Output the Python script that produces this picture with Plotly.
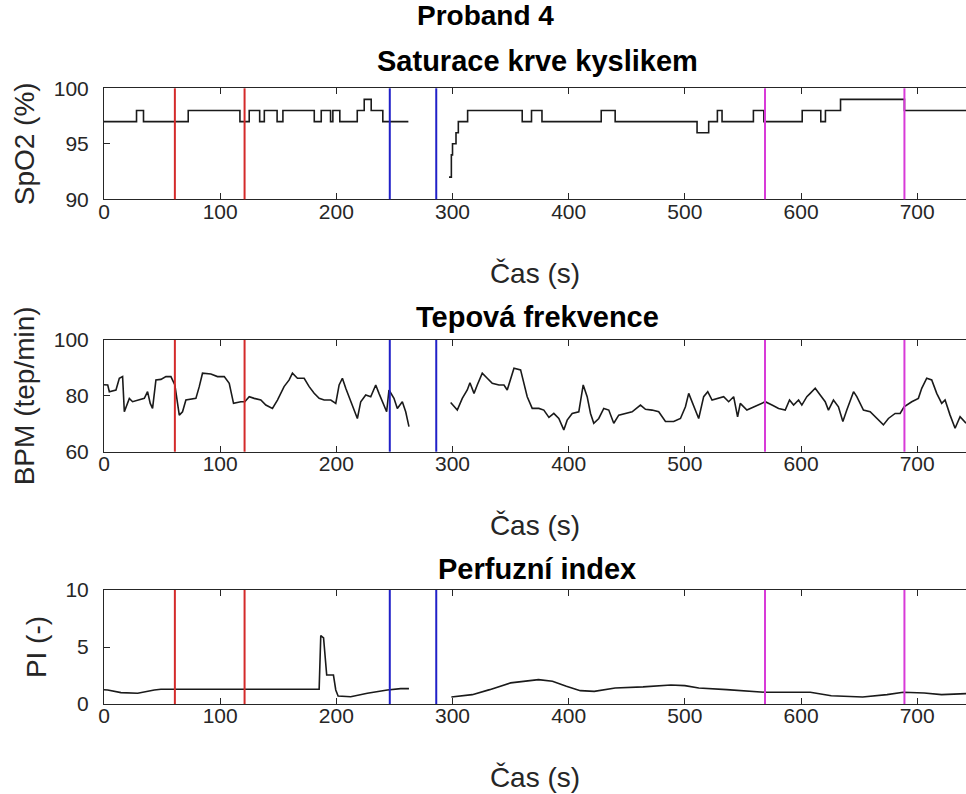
import plotly.graph_objects as go

W, H = 966, 794

# ---------------- data ----------------
event_red = [61, 121]
event_blue = [246, 286]
event_magenta = [569, 689]

spo2_t = [0, 28, 34, 72.5, 117, 125, 134, 138, 149, 154, 181, 187, 195, 197, 203, 218, 224, 230, 240, 262,
          None,
          297, 299, 300, 303, 305, 313, 360, 368, 377, 428, 440, 510.5, 520.5, 528, 532, 559, 568,
          601, 617, 621, 634, 689, 742]
spo2_v = [97, 98, 97, 98, 97, 98, 97, 98, 97, 98, 97, 98, 97, 98, 97, 98, 99, 98, 97, 97,
          None,
          92, 94, 95, 96, 97, 98, 97, 98, 97, 98, 97, 96, 97, 98, 97, 98, 97,
          98, 97, 98, 99, 98, 98]

bpm_t = [0, 3.2, 4.6, 10.3, 13.2, 16, 17.5, 21.8, 24.6, 29, 34.7, 37.5, 39.8, 41.8, 44.7, 49, 53.3, 57.6,
         61, 64.8, 67.6, 70.5, 79.1, 82, 84.8, 92, 97.7, 103.5, 107.8, 111.5, 117.8, 121.2, 125, 129.3,
         135, 139.3, 145, 149.3, 155, 159.4, 162.2, 166.5, 172.3, 176.6, 180.9, 185.2, 189.5, 195.2,
         199.5, 202.4, 205.2, 208.1, 210.9, 215.3, 218.1, 221, 225.3, 229.6, 233.9, 236.7, 241, 243.3,
         245.3, 249.6, 252.5, 256.8, 259.7, 262.5,
         None,
         298.4, 304.1, 308.4, 312.7, 315, 318.5, 321.3, 325.6, 329.9, 334.2, 340, 344.3, 347.1, 350,
         352.9, 358.6, 361.4, 364.3, 368.6, 374.3, 378.6, 383, 387.2, 391.5, 395.8, 398.7, 403, 408.7,
         412.5, 415.9, 418.8, 421.6, 425.9, 430.2, 434.5, 438.8, 443.1, 448.9, 454.6, 461.8, 466.1,
         471.8, 477.5, 483.3, 490.4, 496.2, 500.5, 503.3, 507.6, 511.9, 516.2, 519.7, 523.4, 529.1,
         533.4, 537.7, 542, 545.4, 547.7, 553.4, 559.2, 564.9, 569.2, 575, 580.7, 586.4, 590.1, 593.6,
         597.9, 600.7, 605, 607.9, 612.2, 616.5, 620.8, 623.6, 627.9, 632.2, 636, 639.4, 642.3, 645.2,
         648, 653.7, 659.5, 665.2, 670.9, 675.2, 681, 685.3, 688.7, 695.3, 701, 703.9, 708.2, 712.5,
         716.8, 721.1, 724, 728.3, 732.6, 736.9, 742]
bpm_v = [84, 83.9, 81.5, 82.1, 86.3, 86.9, 74.3, 79.1, 77.9, 78.5, 79.1, 81.5, 77.3, 75.5, 85.7, 85.9, 86.9, 86.9,
         83.9, 73.1, 74.3, 78.5, 79.1, 83.3, 88.1, 87.8, 86.9, 86.9, 84.5, 77.3, 77.9, 77.9, 79.7, 79.1,
         78.5, 76.7, 75.5, 78.5, 83.3, 85.7, 88.1, 86.3, 86.3, 83.3, 80.9, 79.1, 78.5, 78.5,
         77.3, 83.9, 86.3, 82.7, 79.7, 74.9, 71.9, 77.9, 80.3, 79.7, 83.9, 80.9, 76.1, 74.3,
         82.1, 79.1, 75.5, 77.9, 74.3, 69,
         None,
         77.6, 74.9, 79.1, 82.1, 84.7, 80.9, 83.9, 88.1, 86.3, 84.5, 83.9, 83.9, 82.1, 85.7,
         89.9, 89.3, 84.5, 79.7, 75.5, 75.5, 74.9, 72.3, 73.7, 71.9, 67.8, 71.3, 73.7, 74.3,
         83.9, 79.7, 73.7, 70.2, 71.9, 75.5, 74.9, 70.2, 73.1, 73.7, 74.3, 76.7, 75.2,
         74.9, 74.3, 70.8, 70.8, 71.9, 76.1, 80.9, 76.1, 71.9, 79.7, 81.5, 78.5, 79.1,
         79.7, 77.9, 79.7, 72.5, 77.3, 74.9, 76.1, 77.3, 77.9, 76.7, 75.5, 74.9, 78.5, 76.7,
         78.5, 76.7, 79.7, 80.9, 82.7, 80.3, 77.9, 74.9, 78.5, 76.1, 70.8, 74.9, 77.9, 81.5,
         79.7, 74.9, 74.3, 71.9, 69.6, 71.9, 73.7, 73.7, 76.1, 77.9, 79.1, 82.7, 86.3, 85.7,
         80.9, 77.3, 78.5, 73.1, 68.4, 72.5, 70.2]

pi_t = [0, 3.2, 14.6, 29, 43.3, 49, 185.2, 186.6, 189, 191.7, 197.5, 199.5, 201.5, 212.4, 226.7, 243.9,
        255.4, 262.5,
        None,
        299, 317, 332, 350, 374, 386, 398, 410, 422, 440, 464, 488, 500, 512, 536, 560, 569, 587,
        608, 626, 653, 674, 688, 706, 721, 742]
pi_v = [1.25, 1.23, 1.0, 0.94, 1.23, 1.29, 1.29, 6.0, 5.8, 2.54, 2.54, 1.23, 0.7, 0.64, 0.94, 1.23,
        1.35, 1.35,
        None,
        0.62, 0.82, 1.26, 1.85, 2.14, 1.99, 1.55, 1.17, 1.11, 1.41, 1.5, 1.67, 1.61, 1.41, 1.26, 1.11,
        1.03, 1.03, 1.03, 0.73, 0.62, 0.82, 1.03, 0.97, 0.82, 0.91]

x_ticks = [0, 100, 200, 300, 400, 500, 600, 700]
spo2_ticks = [90, 95, 100]
bpm_ticks = [60, 80, 100]
pi_ticks = [0, 5, 10]

main_title = "Proband 4"
panel_titles = ["Saturace krve kyslikem", "Tepová frekvence", "Perfuzní index"]
y_titles = ["SpO2 (%)", "BPM (tep/min)", "PI (-)"]
x_title = "Čas (s)"

# ---------------- layout helpers ----------------
FONT = "Arial, 'Liberation Sans', Helvetica, sans-serif"
AX = "#262626"
x_dom = [104 / W, 1.0]
panels_px = [(88.3, 199.3), (340, 451.7), (590, 704)]
y_doms = [[1 - b / H, 1 - t / H] for (t, b) in panels_px]
y_ranges = [[90, 100], [60, 100], [0, 10]]
y_tickvals = [spo2_ticks, bpm_ticks, pi_ticks]

fig = go.Figure()

series = [(spo2_t, spo2_v, "hv"), (bpm_t, bpm_v, "linear"), (pi_t, pi_v, "linear")]
for i, (tx, vy, shp) in enumerate(series):
    sfx = "" if i == 0 else str(i + 1)
    fig.add_trace(go.Scatter(x=tx, y=vy, mode="lines", line=dict(color="#1a1a1a", width=1.6, shape=shp),
                             xaxis="x" + sfx, yaxis="y" + sfx, showlegend=False, connectgaps=False,
                             hoverinfo="skip"))

layout = dict(width=W, height=H, autosize=False, margin=dict(l=0, r=0, t=0, b=0, autoexpand=False),
              paper_bgcolor="white", plot_bgcolor="white", showlegend=False,
              font=dict(family=FONT, color=AX))

for i in range(3):
    sfx = "" if i == 0 else str(i + 1)
    layout["xaxis" + sfx] = dict(
        domain=x_dom, range=[0, 742], anchor="y" + sfx, showline=True, linecolor=AX, linewidth=1,
        mirror="ticks", ticks="inside", ticklen=6, tickcolor=AX, tickvals=x_ticks,
        showgrid=False, zeroline=False, ticklabelstandoff=-7, automargin=False,
        tickfont=dict(size=21, color=AX, family=FONT),
        title=dict(text=x_title, standoff=41, font=dict(size=28, color=AX, family=FONT)))
    layout["yaxis" + sfx] = dict(
        domain=y_doms[i], range=y_ranges[i], anchor="x" + sfx, showline=True, linecolor=AX,
        linewidth=1, mirror=False, ticks="inside", ticklen=6, tickcolor=AX, automargin=False,
        tickvals=y_tickvals[i], showgrid=False, zeroline=False, ticklabelstandoff=10,
        tickfont=dict(size=21, color=AX, family=FONT),
        title=dict(text=y_titles[i], standoff=10, font=dict(size=28, color=AX, family=FONT)))
    # mirrored ticks on the right edge
    layout["yaxis" + str(i + 4)] = dict(
        domain=y_doms[i], range=y_ranges[i], anchor="x" + sfx, overlaying="y" + sfx, side="right",
        showline=False, ticks="inside", ticklen=6, tickcolor=AX, tickvals=y_tickvals[i],
        showticklabels=False, showgrid=False, zeroline=False, automargin=False)

fig.update_layout(**layout)

# event markers
shapes = []
for i in range(3):
    sfx = "" if i == 0 else str(i + 1)
    for vals, col in [(event_red, "#d42a2a"), (event_blue, "#2020c8"), (event_magenta, "#d83ad8")]:
        for v in vals:
            shapes.append(dict(type="line", xref="x" + sfx, yref="y" + sfx + " domain",
                               x0=v, x1=v, y0=0, y1=1, line=dict(color=col, width=2), layer="above"))
fig.update_layout(shapes=shapes)

# titles
ann = [dict(text="<b>" + main_title + "</b>", x=485 / W, y=1 - 15 / H, xref="paper", yref="paper",
            xanchor="center", yanchor="middle", showarrow=False,
            font=dict(size=28, color="black", family=FONT))]
for txt, ypx in zip(panel_titles, [61, 317, 569]):
    ann.append(dict(text="<b>" + txt + "</b>", x=537 / W, y=1 - ypx / H, xref="paper", yref="paper",
                    xanchor="center", yanchor="middle", showarrow=False,
                    font=dict(size=29, color="black", family=FONT)))
fig.update_layout(annotations=ann)

fig.write_html("out.html", post_script="document.body.style.margin='0px';")
